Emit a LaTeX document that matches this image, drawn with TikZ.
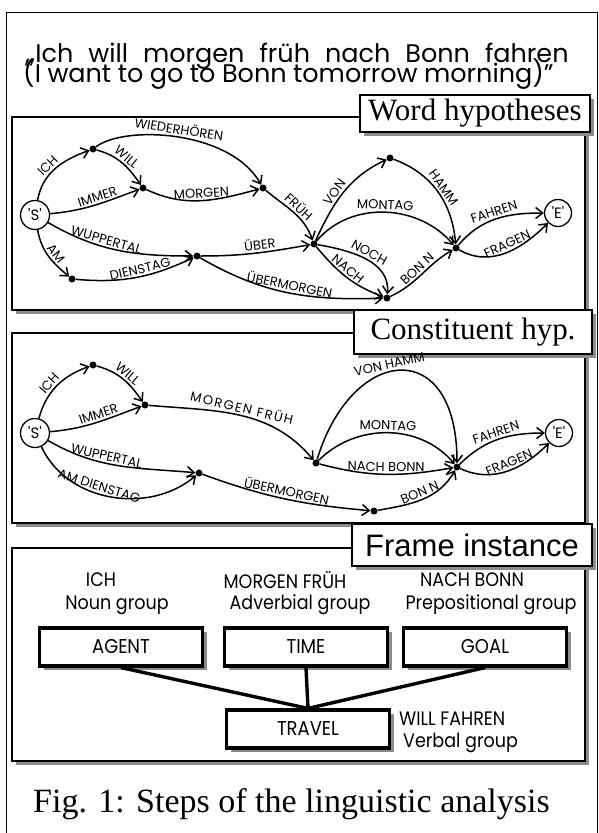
\documentclass[tikz,border=0pt]{standalone}
\usepackage{fontspec}
\setmainfont{Liberation Serif}
\newfontfamily\geofont{Poppins}
\newfontfamily\narrowfont[FakeStretch=0.9]{Poppins}
\newfontfamily\arialfont{Liberation Sans}
\usetikzlibrary{arrows.meta,shadows}

\tikzset{
  stipple/.style={fill=black!45},
  panel/.style={draw, line width=1.4pt, fill=white},
  boxshadow/.style={general shadow={shadow xshift=4pt, shadow yshift=-4pt, stipple}},
  titlebox/.style={draw, line width=1.4pt, fill=white, boxshadow, inner sep=0pt},
  slot/.style={draw, line width=3.2pt, fill=white, boxshadow, minimum width=163pt,
    minimum height=38pt, inner sep=0pt, font=\narrowfont\fontsize{20}{20}\selectfont},
  dot/.style={circle, fill, inner sep=0pt, minimum size=7pt},
  term/.style={circle, draw, line width=1.3pt, fill=white, inner sep=0pt,
    minimum size=29pt, font=\geofont\fontsize{15}{15}\selectfont},
  arc/.style={line width=1.5pt, -{Straight Barb[length=7pt,width=11pt]}},
  lab/.style={sloped, above, inner sep=2pt, font=\geofont\fontsize{13}{13}\selectfont},
  tie/.style={line width=3.4pt},
  grp/.style={inner sep=0pt, font=\narrowfont\fontsize{19.5}{19.5}\selectfont},
  quote/.style={anchor=base west, inner sep=0pt, font=\geofont\fontsize{25.5}{25.5}\selectfont},
}

\begin{document}
\begin{tikzpicture}[x=1pt,y=1pt]
\useasboundingbox (0,0) rectangle (599,-833);
\fill[white] (0,0) rectangle (599,-833);

% outer frame
\draw[line width=1pt] (6,-833) -- (6,-12) -- (597,-12) -- (597,-833);

% example sentence (wide word spacing in the first line)
\node[quote] (q1) at (25,-62) {\spaceskip=15pt {,}{,}Ich will morgen früh nach Bonn fahren};
\node[quote] (q2) at (23,-82) {\spaceskip=6.5pt (I want to go to Bonn tomorrow morning)”};

% three panels with stippled shadows
\fill[stipple] (16,-121) rectangle (589,-314);
\draw[panel] (12,-117) rectangle (585,-310);
\fill[stipple] (16,-337) rectangle (589,-527);
\draw[panel] (12,-333) rectangle (585,-523);
\fill[stipple] (16,-552) rectangle (589,-765);
\draw[panel] (12,-548) rectangle (585,-761);

% panel titles
\node[titlebox, minimum width=230pt, minimum height=37pt, font=\fontsize{31}{31}\selectfont]
  (t1) at (475,-113.5) {Word hypotheses};
\node[titlebox, minimum width=238pt, minimum height=44pt, font=\fontsize{31}{31}\selectfont]
  (t2) at (473,-332) {Constituent hyp.};
\node[titlebox, minimum width=240pt, minimum height=42pt, font=\arialfont\fontsize{31}{31}\selectfont]
  (t3) at (472,-545) {Frame instance};

% ---------- word hypotheses graph ----------
\node[term] (S1) at (35,-215) {'S'};
\node[dot] (a1) at (93,-149) {};
\node[dot] (a2) at (143,-188) {};
\node[dot] (a3) at (263,-188) {};
\node[dot] (a4) at (314,-244) {};
\node[dot] (a5) at (72,-279) {};
\node[dot] (a6) at (197,-256) {};
\node[dot] (a7) at (387,-298) {};
\node[dot] (av) at (390,-158) {};
\node[dot] (a8) at (456,-248) {};
\node[term, minimum size=27pt] (E1) at (558,-213) {'E'};

\draw[arc] (S1) to[out=80,in=200] node[lab,pos=0.45] {ICH} (a1);
\draw[arc] (a1) to[out=-15,in=125] node[lab,pos=0.5] {WILL} (a2);
\draw[arc] (a1) .. controls (125,-125) and (230,-130) .. node[lab,pos=0.5] {WIEDERHÖREN} (a3);
\draw[arc] (S1) to[out=5,in=200] node[lab,pos=0.55] {IMMER} (a2);
\draw[arc] (a2) to[out=-25,in=195] node[lab,pos=0.5] {MORGEN} (a3);
\draw[arc] (a3) to[out=-40,in=110] node[lab,pos=0.5] {FRÜH} (a4);
\draw[arc] (S1) to[out=-30,in=180] node[lab,pos=0.4] {WUPPERTAL} (a6);
\draw[arc] (S1) to[out=-80,in=140] node[lab,pos=0.55] {AM} (a5);
\draw[arc] (a5) to[out=-5,in=205] node[lab,pos=0.55] {DIENSTAG} (a6);
\draw[arc] (a6) to[out=0,in=190] node[lab,pos=0.55] {ÜBER} (a4);
\draw[arc] (a6) to[out=-30,in=182] node[lab,pos=0.5] {ÜBERMORGEN} (a7);
\draw[arc] (a4) to[out=65,in=205] node[lab,pos=0.45] {VON} (av);
\draw[arc] (av) to[out=-20,in=95] node[lab,pos=0.5] {HAMM} (a8);
\draw[arc] (a4) to[out=50,in=130] node[lab,pos=0.5] {MONTAG} (a8);
\draw[arc] (a4) to[out=-10,in=85] node[lab,pos=0.5] {NOCH} (a7);
\draw[arc] (a4) to[out=-50,in=160] node[lab,pos=0.45] {NACH} (a7);
\draw[arc] (a7) to[out=25,in=210] node[lab,pos=0.5] {BON N} (a8);
\draw[arc] (a8) to[out=50,in=180] node[lab,pos=0.5] {FAHREN} (E1);
\draw[arc] (a8) to[out=-30,in=225] node[lab,pos=0.55] {FRAGEN} (E1);

% ---------- constituent hypotheses graph ----------
\node[term] (S2) at (35,-433) {'S'};
\node[dot] (b1) at (93,-365) {};
\node[dot] (b2) at (145,-405) {};
\node[dot] (b3) at (316,-463) {};
\node[dot] (b4) at (199,-473) {};
\node[dot] (b5) at (374,-511) {};
\node[dot] (b6) at (457,-467) {};
\node[term, minimum size=27pt] (E2) at (559,-433) {'E'};

\draw[arc] (S2) to[out=75,in=200] node[lab,pos=0.45] {ICH} (b1);
\draw[arc] (b1) to[out=-15,in=125] node[lab,pos=0.5] {WILL} (b2);
\draw[arc] (S2) to[out=5,in=200] node[lab,pos=0.55] {IMMER} (b2);
\draw[arc] (b2) to[out=-5,in=130] node[lab,pos=0.5,
  font=\geofont\fontsize{13}{13}\selectfont\addfontfeature{LetterSpace=12}] {MORGEN FRÜH} (b3);
\draw[arc] (S2) to[out=-30,in=175] node[lab,pos=0.4] {WUPPERTAL} (b4);
\draw[arc] (S2) to[out=-65,in=220] node[lab,pos=0.42] {AM DIENSTAG} (b4);
\draw[arc] (b4) to[out=-20,in=175] node[lab,pos=0.5] {ÜBERMORGEN} (b5);
\draw[arc] (b3) .. controls (352,-345) and (457,-335) .. node[lab,pos=0.45] {VON HAMM} (b6);
\draw[arc] (b3) to[out=45,in=130] node[lab,pos=0.5] {MONTAG} (b6);
\draw[arc] (b3) to[out=-15,in=190] node[lab,pos=0.5] {NACH BONN} (b6);
\draw[arc] (b5) to[out=10,in=240] node[lab,pos=0.5] {BON N} (b6);
\draw[arc] (b6) to[out=45,in=180] node[lab,pos=0.5] {FAHREN} (E2);
\draw[arc] (b6) to[out=-25,in=225] node[lab,pos=0.55] {FRAGEN} (E2);

% ---------- frame instance ----------
\node[grp] (w1) at (101,-580) {ICH};
\node[grp] (g1) at (117,-605) {Noun group};
\node[grp] (w2) at (285,-580) {MORGEN FRÜH};
\node[grp] (g2) at (300,-605) {Adverbial group};
\node[grp] (w3) at (472,-580) {NACH BONN};
\node[grp] (g3) at (491,-605) {Prepositional group};

\node[slot] (agent) at (121,-647) {AGENT};
\node[slot] (time) at (306,-647) {TIME};
\node[slot] (goal) at (485,-647) {GOAL};
\node[slot] (travel) at (308,-729) {TRAVEL};
\coordinate (J) at (travel.north);

\draw[tie] (agent.south) -- (J);
\draw[tie] (time.south) -- (J);
\draw[tie] (goal.south) -- (J);

\node[grp, anchor=west] (w4) at (399,-719) {WILL FAHREN};
\node[grp, anchor=west] (g4) at (403,-743) {Verbal group};

% caption
\node[anchor=base west, inner sep=0pt, font=\fontsize{34}{34}\selectfont] (cap) at (33,-812)
  {Fig. 1: Steps of the linguistic analysis};
\end{tikzpicture}
\end{document}
